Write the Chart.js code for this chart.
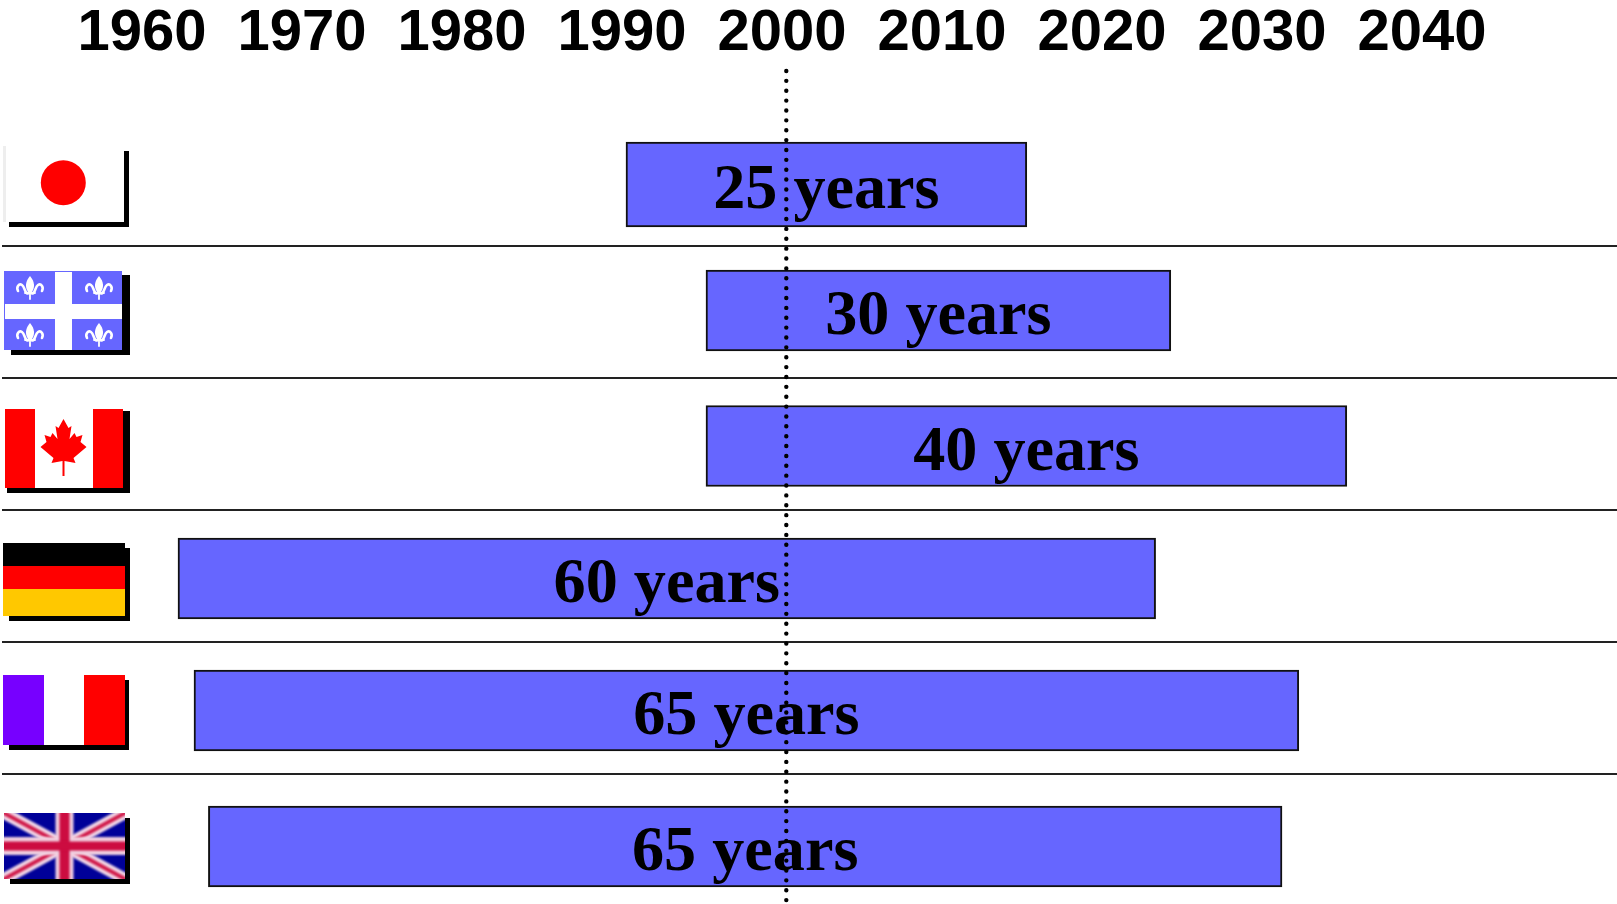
<!DOCTYPE html>
<html>
<head>
<meta charset="utf-8">
<style>html,body{margin:0;padding:0;background:#fff;overflow:hidden;height:904px}canvas{display:block}</style>
<script src="https://cdn.jsdelivr.net/npm/chart.js@4"></script>
</head>
<body>
<div style="width:1617px;height:906px"><canvas id="c"></canvas></div>
<script>
const categories = ['Japan','Quebec','Canada','Germany','France','United Kingdom'];
const startYears = [1990,1995,1995,1962,1963,1963.9];
const endYears = [2015.05,2024.05,2035.05,2023.1,2032.05,2031];
const durations = [25,30,40,60,65,65];
const tickYears = [1960,1970,1980,1990,2000,2010,2020,2030,2040];
const markerYear = 2000;

const rowNudge = [4.5,-1.5,2,2.5,2.5,6.5];
const rowThickness = [85,81,81,81,81,81];

function shadowBox(ctx,x0,y0,x1,y1){ctx.fillStyle='#000';ctx.fillRect(x0,y0,x1-x0,y1-y0);}
function fleur(ctx,cx,cy){
  ctx.save();ctx.translate(cx,cy);ctx.fillStyle='#fff';ctx.strokeStyle='#fff';
  ctx.beginPath();ctx.moveTo(0,-12);ctx.bezierCurveTo(5,-6,5,-1,2,4);ctx.lineTo(-2,4);ctx.bezierCurveTo(-5,-1,-5,-6,0,-12);ctx.fill();
  ctx.lineWidth=2.6;ctx.lineCap='round';
  for(const s of [-1,1]){
    ctx.beginPath();ctx.moveTo(s*1.5,5);ctx.bezierCurveTo(s*5,7,s*5,-1,s*8,-3);ctx.bezierCurveTo(s*11,-5,s*14,-1,s*12,3);ctx.stroke();
  }
  ctx.lineWidth=1.8;
  ctx.beginPath();ctx.moveTo(-5,5);ctx.lineTo(5,5);ctx.stroke();
  ctx.beginPath();ctx.moveTo(0,4);ctx.lineTo(0,11);ctx.stroke();
  ctx.restore();
}
function mapleLeaf(ctx,cx,top){
  const pts=[[0,0],[-5,9],[-8,7],[-6,20],[-11,14],[-13,18],[-19,16],[-17,23],[-23,28],[-10,39],[-12,44],[-1,42],[-1,57],[1,57],[1,42],[12,44],[10,39],[23,28],[17,23],[19,16],[13,18],[11,14],[6,20],[8,7],[5,9]];
  ctx.fillStyle='#f00';ctx.beginPath();
  pts.forEach((p,i)=>{const x=cx+p[0],y=top+p[1];i?ctx.lineTo(x,y):ctx.moveTo(x,y);});
  ctx.closePath();ctx.fill();
}
const flagPainters = [
  (ctx)=>{ // Japan
    shadowBox(ctx,124,151,129,227);shadowBox(ctx,9,222,129,227);
    ctx.fillStyle='#eee';ctx.fillRect(3,146,3,76);
    ctx.save();ctx.filter='blur(0.7px)';ctx.fillStyle='#f00';ctx.beginPath();ctx.arc(63.3,182.7,22.5,0,Math.PI*2);ctx.fill();ctx.restore();
  },
  (ctx)=>{ // Quebec
    shadowBox(ctx,11,275,130,355);
    ctx.fillStyle='#6666ff';ctx.fillRect(4,271,118,79);
    ctx.fillStyle='#fff';ctx.fillRect(55,272,17,78);ctx.fillRect(5,304,117,15);
    [[30,288],[99,288],[30,335],[99,335]].forEach(p=>fleur(ctx,p[0],p[1]));
  },
  (ctx)=>{ // Canada
    shadowBox(ctx,7,411,130,493);
    ctx.fillStyle='#fff';ctx.fillRect(5,409,118,79);
    ctx.fillStyle='#f00';ctx.fillRect(5,409,30,79);ctx.fillRect(93,409,30,79);
    mapleLeaf(ctx,63.5,419);
  },
  (ctx)=>{ // Germany
    shadowBox(ctx,9,548,130,621);
    ctx.fillStyle='#000';ctx.fillRect(3,543,122,23);
    ctx.fillStyle='#f00';ctx.fillRect(3,566,122,23);
    ctx.fillStyle='#ffc800';ctx.fillRect(3,589,122,27);
  },
  (ctx)=>{ // France
    shadowBox(ctx,9,680,129,750);
    ctx.fillStyle='#7700ff';ctx.fillRect(3,675,41,70);
    ctx.fillStyle='#fff';ctx.fillRect(44,675,40,70);
    ctx.fillStyle='#f00';ctx.fillRect(84,675,41,70);
  },
  (ctx)=>{ // United Kingdom
    shadowBox(ctx,10,818,130,884);
    ctx.save();ctx.beginPath();ctx.rect(4,813,121,66);ctx.clip();
    ctx.filter='blur(0.8px)';
    ctx.fillStyle='#000099';ctx.fillRect(0,810,130,72);
    const line=(x0,y0,x1,y1,w,c)=>{ctx.strokeStyle=c;ctx.lineWidth=w;ctx.beginPath();ctx.moveTo(x0,y0);ctx.lineTo(x1,y1);ctx.stroke();};
    line(4,813,125,879,12,'#f2d6e6');line(125,813,4,879,12,'#f2d6e6');
    line(4,813,125,879,4,'#d01848');line(125,813,4,879,4,'#d01848');
    line(64.5,813,64.5,879,18,'#f2d0e0');line(4,846,125,846,18,'#f2d0e0');
    line(64.5,813,64.5,879,10,'#cc0c40');line(4,846,125,846,9,'#cc0c40');
    ctx.restore();
  }
];

const placeRows = {
  id:'placeRows',
  afterDatasetsUpdate(chart){
    chart.getDatasetMeta(0).data.forEach((bar,i)=>{
      bar.y = chart.scales.y.getPixelForValue(i)+rowNudge[i];
      bar.height = rowThickness[i];
    });
  }
};
const decorations = {
  id:'decorations',
  afterDatasetsDraw(chart){
    const ctx=chart.ctx, xs=chart.scales.x, meta=chart.getDatasetMeta(0);
    ctx.save();
    ctx.fillStyle='#000';
    ctx.font='bold 64.2px "Liberation Serif"';
    ctx.textAlign='center';ctx.textBaseline='alphabetic';
    meta.data.forEach((bar,i)=>{
      const cx=(xs.getPixelForValue(startYears[i])+xs.getPixelForValue(endYears[i]))/2;
      ctx.fillText(durations[i]+' years',cx,bar.y+23.5);
    });
    const mx=xs.getPixelForValue(markerYear)+0.3;
    ctx.strokeStyle='#000';ctx.lineWidth=4.4;ctx.lineCap='round';ctx.setLineDash([0,9.87]);
    ctx.beginPath();ctx.moveTo(mx,71);ctx.lineTo(mx,906);ctx.stroke();
    ctx.setLineDash([]);
    flagPainters.forEach(p=>p(ctx));
    ctx.restore();
  }
};

new Chart(document.getElementById('c'),{
  type:'bar',
  data:{
    labels:categories,
    datasets:[{
      data:startYears.map((s,i)=>[s,endYears[i]]),
      backgroundColor:'#6666ff',
      borderColor:'#111',
      borderWidth:2,
      borderSkipped:false,
      barThickness:81
    }]
  },
  plugins:[placeRows,decorations],
  options:{
    indexAxis:'y',
    responsive:true,
    maintainAspectRatio:false,
    animation:false,
    layout:{padding:{left:2,right:0,top:0,bottom:0}},
    plugins:{legend:{display:false},tooltip:{enabled:false},title:{display:false}},
    scales:{
      x:{
        position:'top',
        type:'linear',
        min:1951,
        max:2051.9375,
        afterBuildTicks(s){s.ticks=tickYears.map(v=>({value:v}));},
        afterFit(s){s.height=114;},
        grid:{display:false,drawTicks:false},
        border:{display:false},
        ticks:{
          autoSkip:false,maxRotation:0,minRotation:0,
          labelOffset:-4,
          padding:45,
          color:'#000',
          font:{family:'"Liberation Sans"',weight:'bold',size:58},
          callback:v=>String(v)
        }
      },
      y:{
        type:'category',
        offset:true,
        afterFit(s){s.width=0;},
        grid:{
          offset:true,drawTicks:false,lineWidth:2,
          color:c=>(c.index>0 && c.tick)?'#222':'rgba(0,0,0,0)'
        },
        border:{display:false},
        ticks:{display:false}
      }
    }
  }
});
</script>
</body>
</html>
